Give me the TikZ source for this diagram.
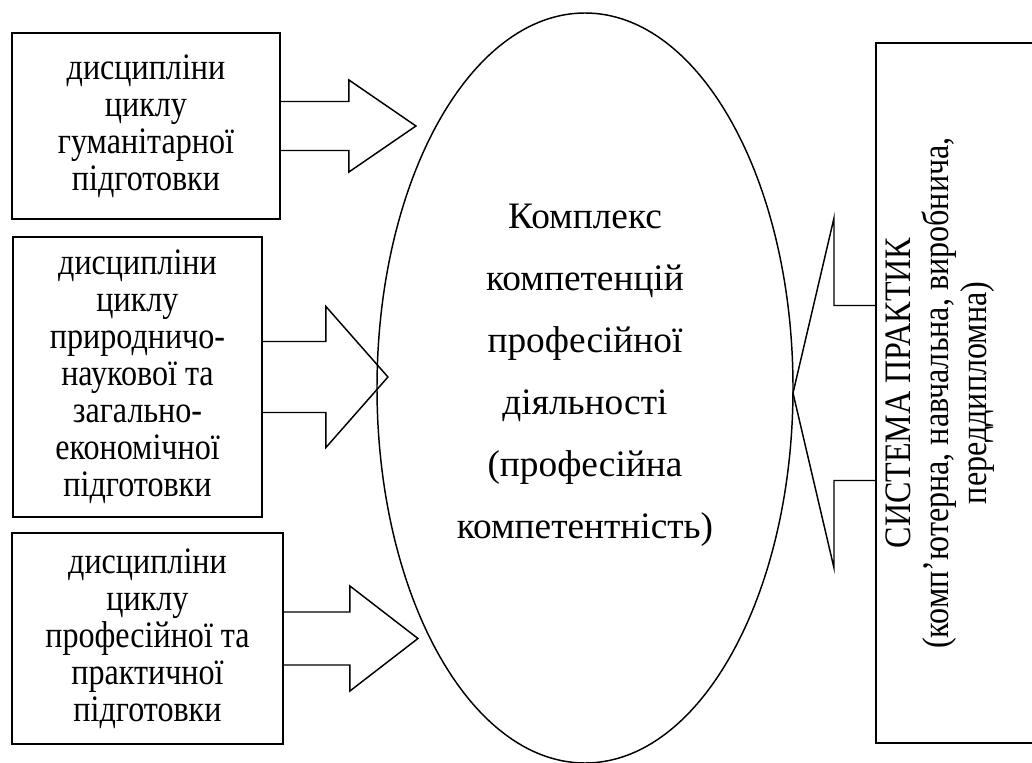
\documentclass[tikz,border=0pt]{standalone}
\usepackage{fontspec}
\setmainfont{Liberation Serif}
\newfontfamily\boxfont[FakeStretch=0.86]{Liberation Serif}
\usetikzlibrary{calc,shapes.geometric}
\def\blockarrow(#1)(#2:#3:#4:#5){\draw[arrowline] ($(#1)+(0,-#3)$) -- ($(#1)+(#4,-#3)$) -- ($(#1)+(#4,-#5)$) -- ($(#1)+(#2,0)$) -- ($(#1)+(#4,#5)$) -- ($(#1)+(#4,#3)$) -- ($(#1)+(0,#3)$);}
\tikzset{
	discbox/.style={draw, line width=1.4pt, align=center, inner sep=0pt, font=\boxfont\fontsize{28}{27.75}\selectfont},
	arrowline/.style={line width=1.1pt, line join=miter},
	compell/.style={line width=1.1pt},
}

\begin{document}
\begin{tikzpicture}[x=0.75pt, y=-0.75pt]
			%%%%% START %%%%%
			\useasboundingbox (0,0) rectangle (1032,763);
			\clip (0,0) rectangle (1032,763);
			
			\node[discbox, minimum width=201pt, minimum height=139.5pt] (hum) at (146,126) {дисципліни\\циклу\\гуманітарної\\підготовки};
			\node[discbox, minimum width=186.75pt, minimum height=210pt] (nat) at (137.5,377) {дисципліни\\циклу\\природничо-\\наукової та\\загально-\\економічної\\підготовки};
			\node[discbox, minimum width=203.25pt, minimum height=158.25pt] (prof) at (147.5,638.5) {дисципліни\\циклу\\професійної та\\практичної\\підготовки};
			
			\blockarrow(hum.east)(135:24.5:68:46)
			\blockarrow(nat.east)(125:35.5:63:70.5)
			\blockarrow(prof.east)(134:26.5:66:52.5)
			
			\node[align=center, font=\fontsize{28}{46.5}\selectfont] (komp) at (585,375) {Комплекс\\компетенцій\\професійної\\діяльності\\(професійна\\компетентність)};
			\draw[compell] ($(komp)+(0,13)$) ellipse [x radius=208, y radius=375];
			
			\draw[line width=1.4pt] (1040,43) -- (876,43) -- (876,743) -- (1040,743);
			\coordinate (prakin) at (876,393);
			\node[rotate=90, align=center, font=\boxfont\fontsize{28}{28.5}\selectfont] (prak) at (940,393) {СИСТЕМА ПРАКТИК\\(комп’ютерна, навчальна, виробнича,\\переддипломна)};
			\blockarrow(prakin)(-83:87.5:-42:175)
			
			%%%%% END %%%%%
\end{tikzpicture}
\end{document}
